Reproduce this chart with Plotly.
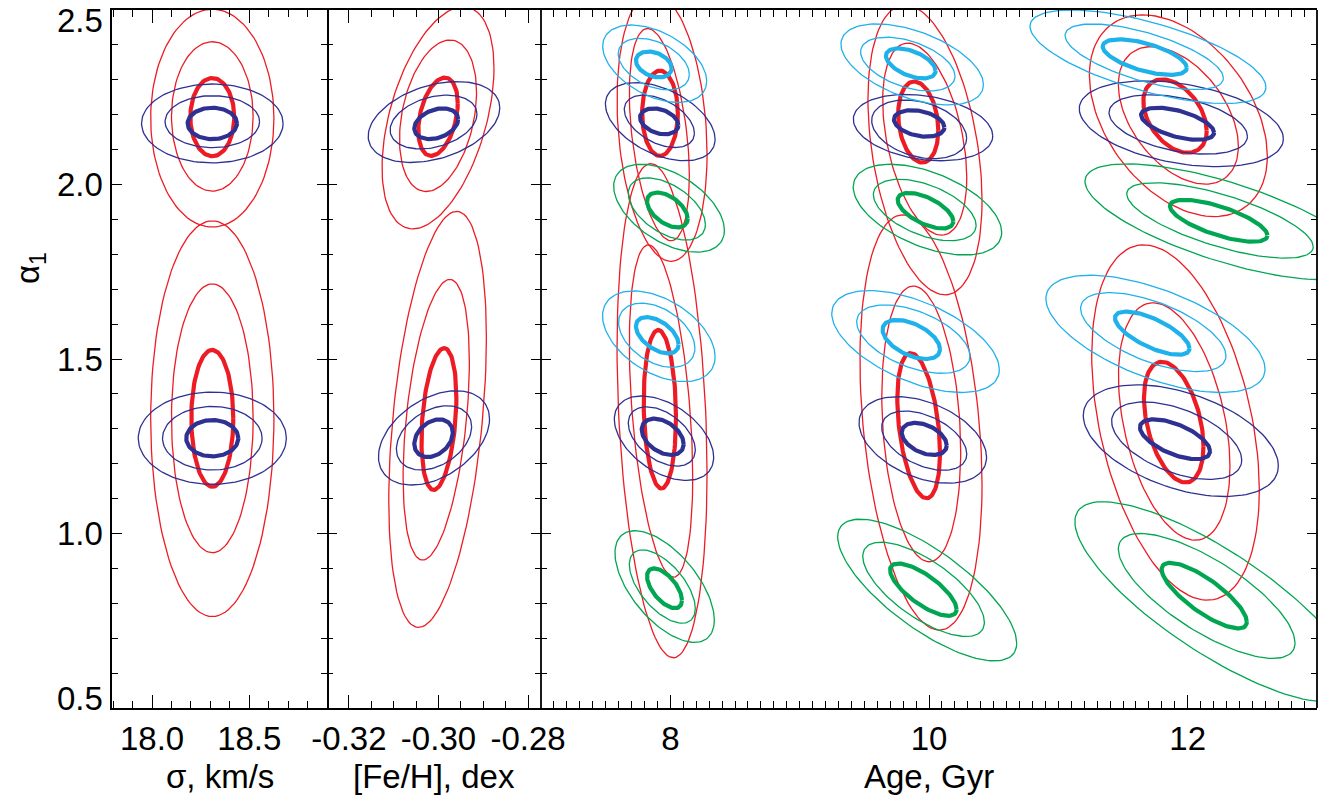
import numpy as np
import plotly.graph_objects as go

# ---------------------------------------------------------------------------
# Confidence contours of alpha_1 against sigma, [Fe/H] and age.
# Each contour is an ellipse: centre (x, y), half-extent along x (dx) and
# along alpha_1 (dy), and a tilt (correlation, -1..1).
# Within every group the order is: outer, middle, inner level.
# ---------------------------------------------------------------------------

# Panel 1: sigma, km/s  (upper solution group, then lower group)
sig_red_x = [18.31, 18.31, 18.31, 18.31, 18.31, 18.31]
sig_red_y = [2.190, 2.195, 2.193, 1.329, 1.330, 1.330]
sig_red_dx = [0.317, 0.210, 0.113, 0.317, 0.210, 0.108]
sig_red_dy = [0.312, 0.214, 0.112, 0.567, 0.385, 0.196]
sig_red_tilt = [0.0, 0.0, 0.0, 0.0, 0.0, 0.0]

sig_blue_x = [18.31, 18.31, 18.31, 18.31, 18.31, 18.31]
sig_blue_y = [2.175, 2.180, 2.175, 1.273, 1.273, 1.273]
sig_blue_dx = [0.364, 0.243, 0.127, 0.381, 0.256, 0.134]
sig_blue_dy = [0.113, 0.0745, 0.045, 0.132, 0.091, 0.052]
sig_blue_tilt = [0.0, 0.0, 0.0, 0.0, 0.0, 0.0]

# Panel 2: [Fe/H], dex
feh_red_x = [-0.3001, -0.3001, -0.3001, -0.3002, -0.3005, -0.2999]
feh_red_y = [2.191, 2.197, 2.194, 1.327, 1.326, 1.328]
feh_red_dx = [0.0125, 0.0086, 0.0044, 0.0109, 0.0074, 0.0039]
feh_red_dy = [0.318, 0.217, 0.112, 0.596, 0.402, 0.203]
feh_red_tilt = [0.45, 0.31, 0.35, 0.39, 0.41, 0.30]

feh_blue_x = [-0.3010, -0.3011, -0.3005, -0.3010, -0.3010, -0.3011]
feh_blue_y = [2.179, 2.179, 2.174, 1.274, 1.274, 1.273]
feh_blue_dx = [0.0147, 0.0097, 0.0049, 0.0124, 0.0084, 0.0043]
feh_blue_dy = [0.116, 0.077, 0.044, 0.135, 0.092, 0.054]
feh_blue_tilt = [0.35, 0.30, 0.30, 0.40, 0.35, 0.30]

# Panel 3: Age, Gyr  (8 Gyr upper/lower, 10 Gyr upper/lower, 12 Gyr upper/lower)
age_red_x = [7.936, 7.915, 7.920, 7.936, 7.928, 7.919,
             9.969, 9.967, 9.917, 9.938, 9.940, 9.920,
             11.928, 11.928, 11.902, 11.906, 11.896, 11.892]
age_red_y = [2.165, 2.143, 2.204, 1.352, 1.351, 1.356,
             2.099, 2.130, 2.179, 1.318, 1.314, 1.309,
             2.197, 2.198, 2.196, 1.318, 1.321, 1.319]
age_red_dx = [0.348, 0.232, 0.138, 0.348, 0.245, 0.125,
              0.441, 0.325, 0.155, 0.472, 0.305, 0.165,
              0.688, 0.464, 0.245, 0.648, 0.431, 0.230]
age_red_dy = [0.385, 0.304, 0.122, 0.708, 0.476, 0.227,
              0.415, 0.275, 0.116, 0.595, 0.395, 0.208,
              0.289, 0.197, 0.105, 0.509, 0.340, 0.173]
age_red_tilt = [-0.20, -0.39, 0.0, -0.25, -0.40, -0.10,
                -0.35, -0.40, -0.20, -0.30, -0.20, -0.37,
                -0.40, -0.45, -0.40, -0.38, -0.38, -0.40]

age_blue_x = [7.922, 7.915, 7.914, 7.951, 7.934, 7.941,
              9.954, 9.924, 9.924, 9.952, 9.963, 9.963,
              11.951, 11.927, 11.922, 11.947, 11.915, 11.902]
age_blue_y = [2.180, 2.181, 2.181, 1.273, 1.278, 1.277,
              2.163, 2.158, 2.175, 1.268, 1.266, 1.271,
              2.174, 2.172, 2.174, 1.266, 1.266, 1.270]
age_blue_dx = [0.424, 0.271, 0.148, 0.384, 0.259, 0.162,
               0.539, 0.367, 0.195, 0.493, 0.329, 0.174,
               0.789, 0.535, 0.282, 0.754, 0.503, 0.271]
age_blue_dy = [0.112, 0.075, 0.037, 0.121, 0.085, 0.052,
               0.095, 0.084, 0.038, 0.124, 0.085, 0.046,
               0.123, 0.085, 0.046, 0.160, 0.111, 0.057]
age_blue_tilt = [-0.45, -0.45, -0.30, -0.45, -0.45, -0.40,
                 -0.25, -0.30, -0.30, -0.40, -0.45, -0.40,
                 -0.35, -0.40, -0.55, -0.45, -0.50, -0.60]

age_sky_x = [7.879, 7.872, 7.872, 7.911, 7.895, 7.899,
             9.870, 9.836, 9.859, 9.896, 9.879, 9.863,
             11.693, 11.664, 11.668, 11.751, 11.734, 11.726]
age_sky_y = [2.346, 2.345, 2.344, 1.565, 1.568, 1.568,
             2.344, 2.345, 2.347, 1.550, 1.557, 1.556,
             2.366, 2.366, 2.365, 1.572, 1.577, 1.574]
age_sky_dx = [0.402, 0.275, 0.138, 0.435, 0.295, 0.165,
              0.551, 0.365, 0.192, 0.648, 0.438, 0.222,
              0.912, 0.612, 0.325, 0.847, 0.562, 0.288]
age_sky_dy = [0.111, 0.074, 0.037, 0.130, 0.092, 0.052,
              0.116, 0.077, 0.043, 0.146, 0.098, 0.056,
              0.134, 0.094, 0.051, 0.168, 0.113, 0.062]
age_sky_tilt = [-0.45, -0.40, -0.30, -0.45, -0.40, -0.50,
                -0.50, -0.45, -0.50, -0.55, -0.50, -0.50,
                -0.65, -0.65, -0.60, -0.60, -0.60, -0.70]

age_green_x = [7.990, 7.973, 7.977, 7.956, 7.938, 7.955,
               9.988, 9.967, 9.973, 9.986, 9.958, 9.956,
               12.289, 12.250, 12.240, 12.211, 12.147, 12.128]
age_green_y = [1.932, 1.930, 1.927, 0.848, 0.848, 0.843,
               1.928, 1.927, 1.925, 0.838, 0.840, 0.839,
               1.893, 1.897, 1.896, 0.804, 0.821, 0.822]
age_green_dx = [0.428, 0.298, 0.157, 0.384, 0.255, 0.135,
                0.574, 0.397, 0.215, 0.692, 0.470, 0.257,
                1.083, 0.721, 0.377, 1.083, 0.683, 0.329]
age_green_dy = [0.126, 0.089, 0.050, 0.160, 0.105, 0.057,
                0.130, 0.088, 0.051, 0.203, 0.135, 0.075,
                0.166, 0.108, 0.060, 0.287, 0.179, 0.094]
age_green_tilt = [-0.50, -0.50, -0.50, -0.60, -0.60, -0.60,
                  -0.50, -0.50, -0.60, -0.75, -0.70, -0.75,
                  -0.70, -0.70, -0.70, -0.80, -0.75, -0.80]

# tick values and labels
alpha_ticks = [0.5, 1.0, 1.5, 2.0, 2.5]
sigma_ticks = [18.0, 18.5]
feh_ticks = [-0.32, -0.30, -0.28]
feh_labels = ["-0.32", "-0.30", "-0.28"]
age_label_ticks = [8, 10, 12]
age_odd_ticks = [9, 11]

RED = "#ed1c24"
NAVY = "#2e3192"
SKY = "#1fb1ea"
GREEN = "#00a651"
THIN, THICK = 1.3, 4.2
FONT = "Liberation Sans, Arial, Helvetica, sans-serif"
FS = 33
LW = 1.8


def outline(cx, cy, dx, dy, tilt, n=121):
    t = np.linspace(0.0, 2.0 * np.pi, n)
    x = cx + dx * np.cos(t)
    y = cy + dy * (tilt * np.cos(t) + np.sqrt(1.0 - tilt ** 2) * np.sin(t))
    return x, y


fig = go.Figure()


def add_family(xs, ys, dxs, dys, tilts, color, xaxis):
    for i, (cx, cy, dx, dy, tl) in enumerate(zip(xs, ys, dxs, dys, tilts)):
        x, y = outline(cx, cy, dx, dy, tl)
        width = THICK if i % 3 == 2 else THIN
        fig.add_trace(go.Scatter(
            x=x, y=y, mode="lines",
            line=dict(color=color, width=width),
            xaxis=xaxis, yaxis=xaxis.replace("x", "y"),
            showlegend=False, hoverinfo="skip"))


add_family(sig_red_x, sig_red_y, sig_red_dx, sig_red_dy, sig_red_tilt, RED, "x")
add_family(sig_blue_x, sig_blue_y, sig_blue_dx, sig_blue_dy, sig_blue_tilt, NAVY, "x")
add_family(feh_red_x, feh_red_y, feh_red_dx, feh_red_dy, feh_red_tilt, RED, "x2")
add_family(feh_blue_x, feh_blue_y, feh_blue_dx, feh_blue_dy, feh_blue_tilt, NAVY, "x2")
add_family(age_red_x, age_red_y, age_red_dx, age_red_dy, age_red_tilt, RED, "x3")
add_family(age_blue_x, age_blue_y, age_blue_dx, age_blue_dy, age_blue_tilt, NAVY, "x3")
add_family(age_sky_x, age_sky_y, age_sky_dx, age_sky_dy, age_sky_tilt, SKY, "x3")
add_family(age_green_x, age_green_y, age_green_dx, age_green_dy, age_green_tilt, GREEN, "x3")

W, H = 1322, 800
ML, MR, MT, MB = 112, 5, 10, 92
plot_w = W - ML - MR
plot_h = H - MT - MB
d1 = (327 - ML) / plot_w
d2 = (541 - ML) / plot_w

axis_common = dict(
    showline=True, linecolor="black", linewidth=LW, mirror="ticks",
    ticks="inside", tickcolor="black", tickwidth=1.4,
    showgrid=False, zeroline=False, automargin=False,
    tickfont=dict(family=FONT, size=FS, color="black"),
)
minor_x = dict(ticks="inside", ticklen=7, tickcolor="black", tickwidth=1.4)
minor_y = dict(ticks="inside", ticklen=6, tickcolor="black", tickwidth=1.4)

xcommon = dict(axis_common, ticklen=13)
ycommon = dict(axis_common, ticklen=10)

fig.update_layout(
    width=W, height=H,
    margin=dict(l=ML, r=MR, t=MT, b=MB, autoexpand=False),
    paper_bgcolor="white", plot_bgcolor="white",
    xaxis=dict(xcommon, domain=[0, d1], range=[17.794, 18.9],
               tickmode="array", tickvals=sigma_ticks,
               ticktext=[f"{v:.1f}" for v in sigma_ticks],
               minor=dict(minor_x, tickmode="linear", tick0=18.0, dtick=0.1),
               anchor="y"),
    xaxis2=dict(xcommon, domain=[d1, d2], range=[-0.3249, -0.2771],
                tickmode="array", tickvals=feh_ticks, ticktext=feh_labels,
                minor=dict(minor_x, tickmode="linear", tick0=-0.32, dtick=0.005),
                anchor="y2"),
    xaxis3=dict(xcommon, domain=[d2, 1], range=[7, 13],
                tickmode="array", tickvals=age_label_ticks,
                ticktext=[str(v) for v in age_label_ticks],
                minor=dict(minor_x, tickmode="linear", tick0=7, dtick=0.1),
                anchor="y3"),
    # long unlabelled ticks at the odd ages
    xaxis4=dict(xcommon, domain=[d2, 1], range=[7, 13], overlaying="x3",
                matches="x3", anchor="y3", showticklabels=False, showline=False,
                tickmode="array", tickvals=age_odd_ticks),
    yaxis=dict(ycommon, domain=[0, 1], range=[0.5, 2.5], anchor="x",
               tickmode="array", tickvals=alpha_ticks, showticklabels=False,
               minor=dict(minor_y, tickmode="linear", tick0=0.5, dtick=0.1)),
    # the shared panel borders are drawn once, as shapes below
    yaxis2=dict(ycommon, domain=[0, 1], range=[0.5, 2.5], anchor="x2", matches="y",
                showline=False,
                tickmode="array", tickvals=alpha_ticks, showticklabels=False,
                minor=dict(minor_y, tickmode="linear", tick0=0.5, dtick=0.1)),
    yaxis3=dict(ycommon, domain=[0, 1], range=[0.5, 2.5], anchor="x3", matches="y",
                showline=False,
                tickmode="array", tickvals=alpha_ticks, showticklabels=False,
                minor=dict(minor_y, tickmode="linear", tick0=0.5, dtick=0.1)),
)

# border between [Fe/H] and age panels, and the right-hand frame edge
for xd, yd in (("x2 domain", "y2 domain"), ("x3 domain", "y3 domain")):
    fig.add_shape(type="line", xref=xd, yref=yd, x0=1, x1=1, y0=0, y1=1,
                  line=dict(color="black", width=LW))

annotations = []
# alpha_1 tick labels, the end labels kept inside the frame height
for v in alpha_ticks:
    shift = -10 if v == alpha_ticks[-1] else (10 if v == alpha_ticks[0] else 0)
    annotations.append(dict(
        text=f"{v:.1f}", x=-0.006, xref="paper", y=v, yref="y",
        xanchor="right", yanchor="middle", yshift=shift, showarrow=False,
        font=dict(family=FONT, size=FS, color="black")))

title_y = (H - MB - 777) / plot_h
for ref, text in (("x domain", "σ, km/s"), ("x2 domain", "[Fe/H], dex"),
                  ("x3 domain", "Age, Gyr")):
    annotations.append(dict(
        text=text, x=0.5, xref=ref, y=title_y, yref="paper",
        xanchor="center", yanchor="middle", showarrow=False,
        font=dict(family=FONT, size=FS, color="black")))

annotations.append(dict(
    text="α<sub>1</sub>", x=(30 - ML) / plot_w, xref="paper",
    y=(H - MB - 268) / plot_h, yref="paper", textangle=-90,
    xanchor="center", yanchor="middle", showarrow=False,
    font=dict(family=FONT, size=FS, color="black")))

fig.update_layout(annotations=annotations)

fig.write_html("out.html")
